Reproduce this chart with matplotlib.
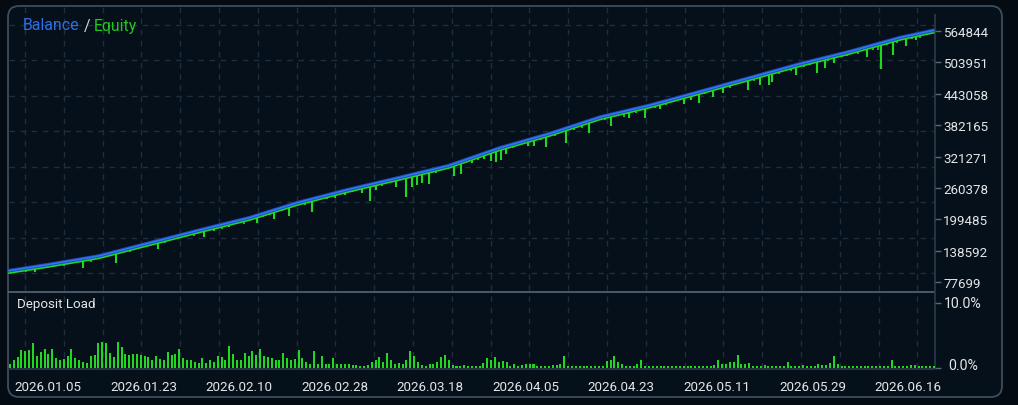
import numpy as np
import matplotlib
matplotlib.use('Agg')
import matplotlib.pyplot as plt
from matplotlib.patches import FancyBboxPatch
import matplotlib.transforms as mtransforms

plt.rcParams['font.family'] = ['Roboto', 'DejaVu Sans']

# ---------------- data ----------------
# x values are days since 2026.01.05
date_ticks = [0, 18, 36, 54, 72, 90, 108, 126, 144, 162]
date_labels = ['2026.01.05', '2026.01.23', '2026.02.10', '2026.02.28', '2026.03.18',
               '2026.04.05', '2026.04.23', '2026.05.11', '2026.05.29', '2026.06.16']

price_ticks = [77699, 138592, 199485, 260378, 321271, 382165, 443058, 503951, 564844]
price_labels = ['77699', '138592', '199485', '260378', '321271',
                '382165', '443058', '503951', '564844']

balance_day = [-7.5, 0, 9.5, 19, 28.5, 38, 47, 56.5, 66, 75.5,
               85, 94.5, 104, 113.5, 122.5, 132, 141.5, 151, 160.5, 167]
balance = [100000, 112000, 128600, 153700, 178800, 203000, 232000, 257200, 280100, 303700,
           337700, 365700, 397700, 420900, 446100, 473200, 500300, 524500, 551600, 566000]

# large equity dips (lowest equity reached)
spike_day = [-2.45, 6.6, 12.8, 20.8, 24.5, 29.3, 31.2, 34.0, 39.3, 42.5,
             45.3, 49.8, 54.1, 55.9, 59.1, 60.7, 61.7, 65.5, 67.4, 68.5,
             69.5, 70.4, 71.8, 76.5, 77.8, 79.9, 82.1, 83.4, 84.3, 85.3,
             86.2, 90.4, 91.6, 93.8, 97.6, 102.0, 106.1, 109.5, 112.4, 115.2,
             119.9, 121.2, 122.6, 125.2, 127.1, 131.9, 134.1, 135.8, 136.3, 141.0,
             144.9, 146.3, 148.0, 154.2, 157.0, 159.2, 161.7, 163.5, 165.5]
spike_low = [97640, 106300, 115900, 142200, 161500, 166300, 176900, 185600, 192400, 200100,
             205900, 214300, 240800, 246500, 251000, 235000, 256200, 262000, 243400, 261700,
             266000, 270400, 268500, 284300, 287800, 309200, 316300, 312400, 311100, 313800,
             325400, 341500, 341500, 339500, 347300, 366700, 380300, 395800, 395800, 413100,
             422900, 430600, 424200, 437000, 443600, 450000, 459600, 459600, 466000, 479000,
             483500, 492000, 501700, 514500, 490700, 517700, 535200, 546800, 556400]

# small equity drawdowns below balance (account currency)
minor_day = [-6.0, -4.2, -1.0, 1.2, 3.0, 4.5, 8.0, 10.2, 11.5, 14.0, 15.5, 17.2, 19.8, 22.0,
             23.3, 26.0, 27.5, 30.2, 32.8, 35.5, 37.0, 40.5, 41.8, 44.0, 46.5, 48.5, 51.0,
             52.5, 57.5, 63.0, 64.2, 73.0, 74.5, 78.8, 81.0, 87.5, 88.8, 92.8, 95.5, 96.5,
             99.0, 100.5, 103.0, 105.0, 107.3, 108.5, 110.8, 114.3, 116.5, 118.0, 123.8, 126.0,
             128.5, 130.0, 133.0, 137.8, 139.0, 140.0, 142.5, 143.5, 147.0, 149.5, 150.5,
             152.5, 153.5, 155.5, 156.3, 158.0, 160.0, 162.8, 164.3, 166.2]
minor_dd = [5000, 7000, 4000, 6000, 8000, 5000, 9000, 6000, 4000, 7000, 9000, 5000, 6000, 8000,
            5000, 7000, 9000, 6000, 8000, 5000, 9000, 6000, 8000, 7000, 5000, 9000, 6000,
            8000, 7000, 9000, 6000, 8000, 6000, 7000, 9000, 8000, 6000, 7000, 9000, 6000,
            8000, 10000, 7000, 9000, 6000, 11000, 8000, 7000, 9000, 6000, 8000, 7000,
            9000, 6000, 8000, 9000, 7000, 10000, 8000, 6000, 9000, 7000, 8000,
            10000, 6000, 9000, 12000, 8000, 10000, 7000, 9000, 6000]

load = [0.6, 1.2, 1.7, 2.8, 2.7, 2.8, 3.8, 1.9, 2.5, 3.0, 2.2, 3.0, 1.5, 1.3, 1.4, 1.8, 3.0, 1.5, 1.3, 0.9,
        0.8, 1.9, 2.0, 3.8, 4.0, 3.8, 2.3, 1.7, 4.0, 3.2, 2.2, 2.0, 2.2, 2.2, 2.0, 1.8, 1.7, 1.2, 1.8, 1.4,
        1.2, 2.5, 2.0, 2.2, 3.0, 1.5, 1.3, 1.2, 0.9, 0.8, 1.5, 0.8, 1.2, 0.9, 1.8, 1.7, 1.2, 3.4, 2.2, 1.3,
        1.3, 2.3, 1.9, 2.6, 2.0, 2.9, 1.8, 1.7, 1.5, 1.2, 1.3, 2.3, 1.5, 1.3, 1.4, 2.8, 1.5, 0.9, 0.6, 2.7,
        0.6,
        1.8, 0.6, 0.6, 1.5, 0.6, 0.6, 0.6, 0.6, 0.5, 0.5, 0.4, 0.4, 0.5, 1.0, 1.3, 1.7, 1.0, 2.3, 1.2, 0.6,
        0.8, 0.6, 1.2, 2.6, 1.9, 0.9, 0.5, 0.4, 0.6, 0.6, 1.0, 1.7, 2.0, 1.2, 0.5, 0.4, 0.4, 0.5, 0.4, 0.4,
        0.3, 0.4, 0.8, 1.5, 1.2, 1.7, 0.9, 1.1, 0.9, 0.4, 0.6, 0.4, 0.5, 0.7, 0.7, 0.7, 0.4, 0.4, 0.4, 0.4,
        0.5, 0.5, 0.7, 1.8, 0.3, 0.3, 0.3, 0.3, 0.4, 0.4, 0.4, 0.3, 0.3, 0.4, 1.1, 1.2, 1.9, 0.9, 0.6, 0.4,
        0.3, 0.3, 0.6, 1.3, 0.3, 0.3, 0.3, 0.3, 0.4, 0.3, 0.3, 0.3, 0.3, 0.4, 0.3, 0.3, 0.3, 0.3, 0.3, 0.3,
        0.3, 0.4, 0.5, 1.3, 0.6, 0.6, 1.0, 1.0, 2.1, 0.6, 0.6, 0.8, 0.4, 0.3, 0.3, 0.5, 0.4, 0.4, 0.3, 0.3,
        0.3,
        1.0, 0.4, 0.4, 0.3, 0.5, 0.4, 0.4, 0.3, 0.6, 0.5, 0.5, 0.8, 1.9, 0.6, 0.3, 0.3, 0.3, 0.3, 0.3, 0.3,
        0.3, 0.3, 0.4, 0.3, 0.4, 0.3, 0.3, 1.2, 0.3, 0.4, 0.3, 0.4, 0.5, 0.5, 0.3, 0.3, 0.3, 0.3, 0.3]

load_ticks = [0, 10]
load_labels = ['0.0%', '10.0%']

# ---------------- style ----------------
W, H = 1018, 406
FIG_BG = '#050b13'
PANEL = '#06101a'
BORDER = '#3c4d5e'
GRID = '#1f2d3c'
TEXT = '#e4e6e8'
BLUE_TXT = '#2f6fe6'
GREEN = '#1fd81f'
GREEN_TXT = '#22c81c'

L, R = 8, 935
T, MID, BOT = 7, 293.3, 370

fig = plt.figure(figsize=(W / 100, H / 100), dpi=100, facecolor=FIG_BG)

# background / frame axes in pixel coordinates
bg = fig.add_axes([0, 0, 1, 1], zorder=0)
bg.set_xlim(0, W)
bg.set_ylim(H, 0)
bg.axis('off')
bg.add_patch(FancyBboxPatch((8, 7), 994, 391, boxstyle='round,pad=0,rounding_size=11',
                            fc=PANEL, ec=BORDER, lw=1.3))
grid_x = [25 + 38.8 * k for k in range(24)]
grid_y = [25.5 + 35.5 * k for k in range(8)]
bg.vlines(grid_x, T + 1, BOT, colors=GRID, lw=1, linestyles=(0, (4, 4)))
bg.hlines(grid_y, L + 1, R, colors=GRID, lw=1, linestyles=(0, (4, 4)))
bg.hlines([MID], L, R, colors='#56677a', lw=1.2)
bg.hlines([BOT], L, R, colors='#2c3b4a', lw=1.2)
bg.vlines([R], T + 8, BOT, colors='#2c3b4a', lw=1.2)

def px_rect(x0, y0, x1, y1):
    return [x0 / W, 1 - y1 / H, (x1 - x0) / W, (y1 - y0) / H]

# ---------------- main chart ----------------
ax = fig.add_axes(px_rect(L, T, R, MID), zorder=2)
ax.set_facecolor('none')
for s in ax.spines.values():
    s.set_visible(False)
ax.set_xlim(-7.55, 167.1)
ax.set_ylim(58337, 612670)

down = mtransforms.ScaledTranslation(0, -2.2 / 100, fig.dpi_scale_trans)
spike_top = np.interp(spike_day, balance_day, balance)
ax.vlines(spike_day, spike_low, spike_top, colors=GREEN, lw=1.5, zorder=2)
minor_top = np.interp(minor_day, balance_day, balance)
ax.vlines(minor_day, minor_top - np.array(minor_dd), minor_top, colors=GREEN, lw=1.2, zorder=2)
ax.plot(balance_day, balance, color=GREEN, lw=1.6, transform=ax.transData + down,
        solid_capstyle='butt', zorder=3)
ax.plot(balance_day, balance, color='#1c4fc4', lw=2.5, solid_capstyle='butt', zorder=4)
ax.plot(balance_day, balance, color='#3478f0', lw=1.0, solid_capstyle='butt', zorder=5)

ax.yaxis.tick_right()
ax.set_yticks(price_ticks)
ax.set_yticklabels(price_labels)
ax.tick_params(axis='y', length=4, width=1, color='#56677a', pad=2,
               labelsize=9.6, labelcolor=TEXT)
ax.set_xticks([])

# title
t1 = bg.text(23, 26, 'Balance', color=BLUE_TXT, fontsize=11.4, va='center', ha='left')
t2 = bg.annotate(' / ', xy=(1, 0), xycoords=t1, va='bottom', ha='left',
                 color='#d0d4d8', fontsize=11.4)
t3 = bg.annotate('Equity', xy=(1, 0), xycoords=t2, va='bottom', ha='left',
                 color=GREEN_TXT, fontsize=11.4)

# ---------------- deposit load ----------------
ax2 = fig.add_axes(px_rect(L, MID, R, BOT), zorder=2)
ax2.set_facecolor('none')
for s in ax2.spines.values():
    s.set_visible(False)
ax2.set_xlim(-7.55, 167.1)
ax2.set_ylim(-0.1, 11.55)
bar_x = np.linspace(-7.2, 166.9, len(load))
ax2.bar(bar_x, load, width=0.38, color=GREEN, linewidth=0, zorder=3)

ax2.yaxis.tick_right()
ax2.set_yticks(load_ticks)
ax2.set_yticklabels(['', ''])
ax2.tick_params(axis='y', length=4, width=1, color='#56677a')
lab_tr = mtransforms.blended_transform_factory(bg.transData, ax2.transData)
for v, s, dy in zip(load_ticks, load_labels, [0.45, 0.0]):
    ax2.text(963, v + dy, s, transform=lab_tr, ha='center', va='center',
             fontsize=10.2, color=TEXT)
ax2.set_xticks(date_ticks)
ax2.set_xticklabels(date_labels)
ax2.tick_params(axis='x', length=0, pad=8, labelsize=9.6, labelcolor=TEXT)

bg.text(17, 305, 'Deposit Load', color=TEXT, fontsize=9.6, va='center', ha='left')

fig.savefig('out.png', dpi=100, facecolor=FIG_BG)
